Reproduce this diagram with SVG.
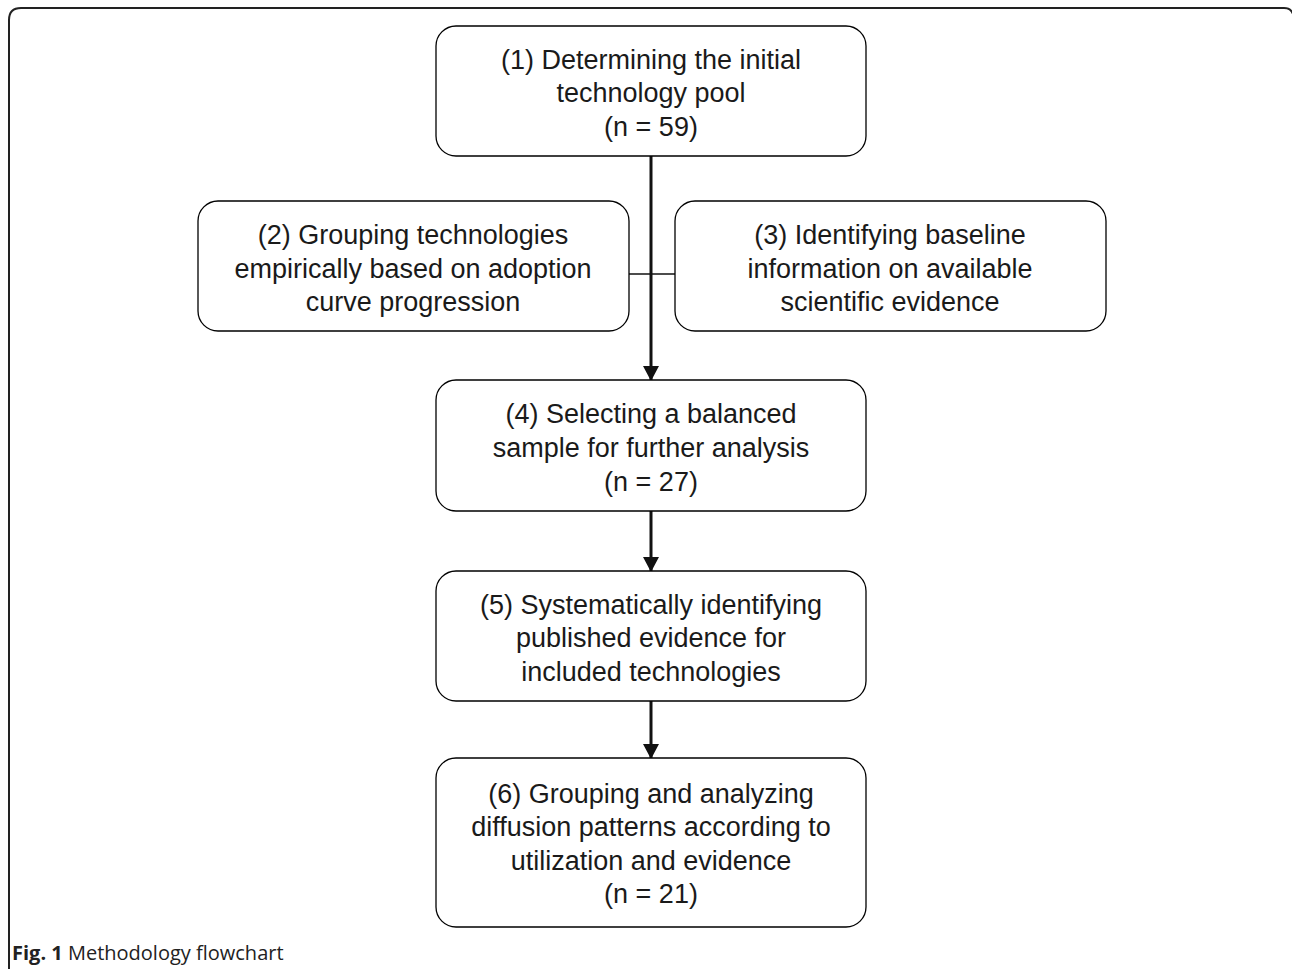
<svg xmlns="http://www.w3.org/2000/svg" width="1292" height="969" viewBox="0 0 1292 969">
<defs>
<style>
.box{fill:#fff;stroke:#000;stroke-width:1.3}
.t{font-family:"Liberation Sans",Arial,sans-serif;font-size:27px;fill:#1a1a1a;text-anchor:middle}
.conn{stroke:#111;fill:none}
.cap{font-family:"Open Sans",sans-serif;font-size:20px;fill:#222}
</style>
<marker id="ah2" markerWidth="16" markerHeight="16" refX="14" refY="8" viewBox="0 0 16 16" orient="auto" markerUnits="userSpaceOnUse">
<path d="M0,0 L15,8 L0,16 Z" fill="#111"/>
</marker>
</defs>
<rect width="1292" height="969" fill="#fff"/>
<path d="M9,969 V20 Q9,8 21,8 H1284 Q1291,8 1293,14" fill="none" stroke="#222" stroke-width="2"/>
<g id="connectors">
<line class="conn" x1="629" y1="274" x2="675" y2="274" stroke-width="1.3"/>
<line class="conn" x1="651" y1="156" x2="651" y2="380" stroke-width="3" marker-end="url(#ah2)"/>
<line class="conn" x1="651" y1="511" x2="651" y2="571" stroke-width="3" marker-end="url(#ah2)"/>
<line class="conn" x1="651" y1="701" x2="651" y2="758" stroke-width="3" marker-end="url(#ah2)"/>
</g>
<g id="n1"><rect class="box" x="436" y="26" width="430" height="130" rx="20"/>
<text class="t" x="651" y="69">(1) Determining the initial</text>
<text class="t" x="651" y="102">technology pool</text>
<text class="t" x="651" y="136">(n = 59)</text></g>
<g id="n2"><rect class="box" x="198" y="201" width="431" height="130" rx="20"/>
<text class="t" x="413" y="244">(2) Grouping technologies</text>
<text class="t" x="413" y="278">empirically based on adoption</text>
<text class="t" x="413" y="311">curve progression</text></g>
<g id="n3"><rect class="box" x="675" y="201" width="431" height="130" rx="20"/>
<text class="t" x="890" y="244">(3) Identifying baseline</text>
<text class="t" x="890" y="278">information on available</text>
<text class="t" x="890" y="311">scientific evidence</text></g>
<g id="n4"><rect class="box" x="436" y="380" width="430" height="131" rx="20"/>
<text class="t" x="651" y="423">(4) Selecting a balanced</text>
<text class="t" x="651" y="457">sample for further analysis</text>
<text class="t" x="651" y="491">(n = 27)</text></g>
<g id="n5"><rect class="box" x="436" y="571" width="430" height="130" rx="20"/>
<text class="t" x="651" y="614">(5) Systematically identifying</text>
<text class="t" x="651" y="647">published evidence for</text>
<text class="t" x="651" y="681">included technologies</text></g>
<g id="n6"><rect class="box" x="436" y="758" width="430" height="169" rx="20"/>
<text class="t" x="651" y="803">(6) Grouping and analyzing</text>
<text class="t" x="651" y="836">diffusion patterns according to</text>
<text class="t" x="651" y="870">utilization and evidence</text>
<text class="t" x="651" y="903">(n = 21)</text></g>
<text class="cap" x="12" y="960"><tspan font-weight="bold">Fig. 1</tspan> Methodology flowchart</text>
</svg>
